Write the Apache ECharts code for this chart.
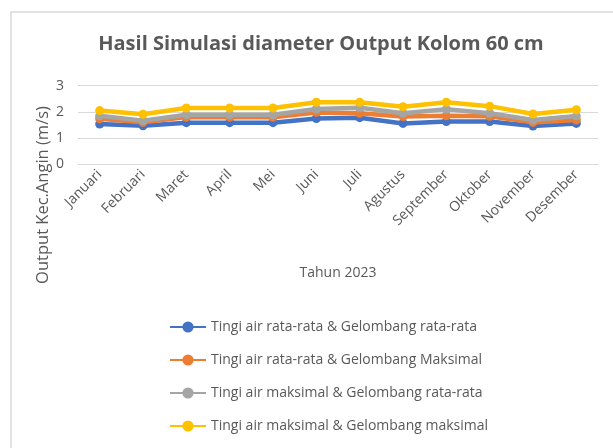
<!DOCTYPE html>
<html>
<head>
<meta charset="utf-8">
<script src="https://cdn.jsdelivr.net/npm/echarts@6/dist/echarts.min.js"></script>
<style>
  html, body { margin: 0; padding: 0; background: #fff; }
  #chart { width: 613px; height: 448px; }
</style>
</head>
<body>
<div id="chart"></div>
<script>
// bulan
var months = ['Januari', 'Februari', 'Maret', 'April', 'Mei', 'Juni', 'Juli',
  'Agustus', 'September', 'Oktober', 'November', 'Desember'];

// nilai tiap skenario (m/s)
var avgAvg = [1.54, 1.47, 1.59, 1.59, 1.59, 1.75, 1.78, 1.56, 1.63, 1.63, 1.46, 1.56];
var avgMax = [1.74, 1.60, 1.80, 1.80, 1.80, 1.98, 1.95, 1.82, 1.85, 1.83, 1.60, 1.69];
var maxAvg = [1.85, 1.66, 1.89, 1.89, 1.89, 2.11, 2.16, 1.95, 2.10, 1.95, 1.69, 1.84];
var maxMax = [2.05, 1.91, 2.15, 2.15, 2.15, 2.37, 2.37, 2.20, 2.37, 2.22, 1.92, 2.08];

var seriesNames = [
  'Tingi air rata-rata & Gelombang rata-rata',
  'Tingi air rata-rata & Gelombang Maksimal',
  'Tingi air maksimal & Gelombang rata-rata',
  'Tingi air maksimal & Gelombang maksimal'
];
var colors = ['#4472C4', '#ED7D31', '#A5A5A5', '#FFC000'];

var font = 'Open Sans';
var textColor = '#595959';

var chart = echarts.init(document.getElementById('chart'));

function makeSeries(name, data, idx) {
  return {
    name: name,
    type: 'line',
    data: data,
    symbol: 'circle',
    symbolSize: 9,
    lineStyle: { width: 4.5, color: colors[idx] },
    itemStyle: { color: colors[idx] },
    z: 2 + idx,
    animation: false
  };
}

chart.setOption({
  backgroundColor: '#fff',
  graphic: [{
    type: 'rect',
    shape: { x: 11, y: 12, width: 700, height: 500 },
    style: { fill: 'none', stroke: '#d9d9d9', lineWidth: 1.5 },
    silent: true
  }, {
    // judul sumbu y, diletakkan di tengah area grafik seperti aslinya
    type: 'text',
    x: 43,
    y: 195,
    rotation: Math.PI / 2,
    style: {
      text: 'Output Kec.Angin (m/s)',
      fill: textColor,
      font: '16.5px "Open Sans"',
      textAlign: 'center',
      textVerticalAlign: 'middle'
    },
    silent: true
  }],
  title: {
    text: 'Hasil Simulasi diameter Output Kolom 60 cm',
    left: 316,
    top: 29,
    textAlign: 'center',
    textStyle: { fontFamily: font, fontSize: 20, fontWeight: 'bold', color: textColor }
  },
  legend: {
    orient: 'vertical',
    left: 164,
    top: 315,
    itemWidth: 36,
    itemHeight: 14,
    itemGap: 19,
    textStyle: { fontFamily: font, fontSize: 14, color: textColor },
    data: seriesNames
  },
  grid: { left: 78, right: 15, top: 85.7, bottom: 283.7, containLabel: false },
  xAxis: {
    type: 'category',
    data: months,
    boundaryGap: true,
    name: 'Tahun 2023',
    nameLocation: 'middle',
    nameGap: 102,
    nameTextStyle: { fontFamily: font, fontSize: 14, color: textColor },
    axisLine: { show: true, lineStyle: { color: '#d9d9d9', width: 1 } },
    axisTick: { show: false },
    axisLabel: { rotate: 45, fontFamily: font, fontSize: 14, color: textColor, margin: 8 }
  },
  yAxis: {
    type: 'value',
    min: 0,
    max: 3,
    interval: 1,
    axisLine: { show: false },
    axisTick: { show: false },
    axisLabel: { fontFamily: font, fontSize: 14, color: textColor, margin: 14 },
    splitLine: { lineStyle: { color: '#d9d9d9', width: 1 } }
  },
  series: [
    makeSeries(seriesNames[0], avgAvg, 0),
    makeSeries(seriesNames[1], avgMax, 1),
    makeSeries(seriesNames[2], maxAvg, 2),
    makeSeries(seriesNames[3], maxMax, 3)
  ]
});
</script>
</body>
</html>
